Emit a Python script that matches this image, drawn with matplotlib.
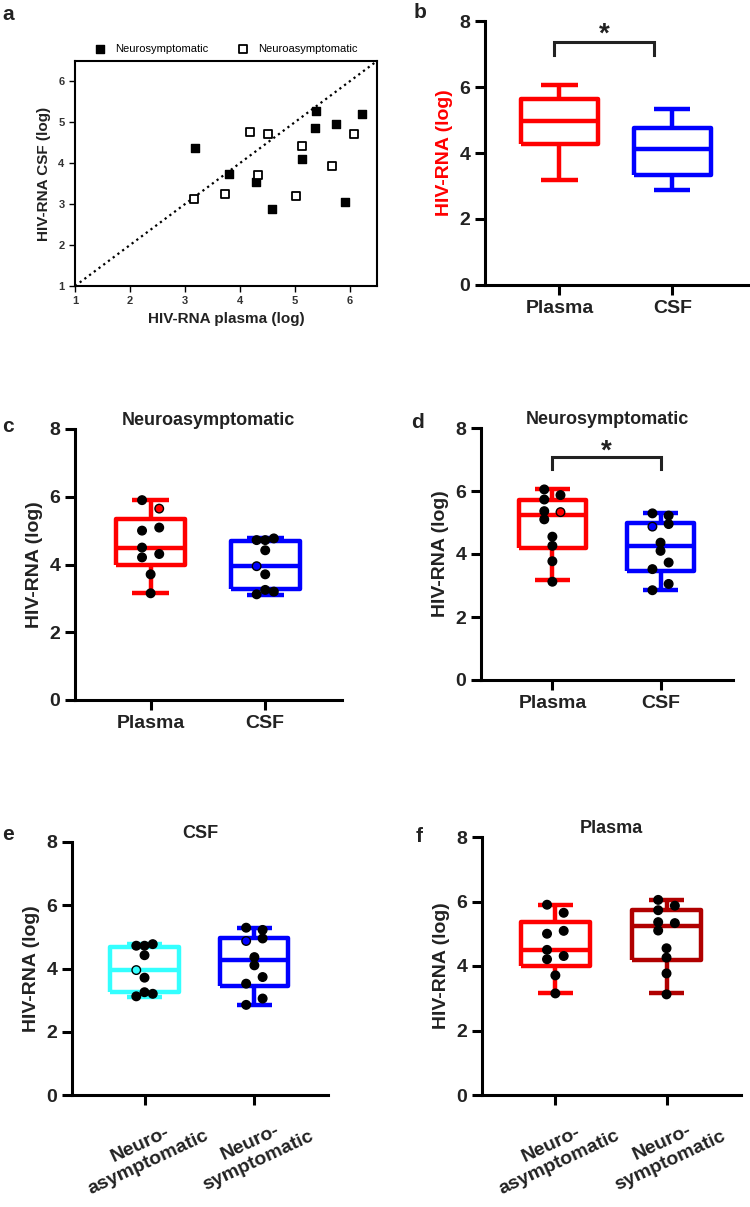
import numpy as np
import matplotlib
matplotlib.use('Agg')
import matplotlib.pyplot as plt

plt.rcParams['font.family'] = ['Liberation Sans', 'DejaVu Sans']
plt.rcParams['font.weight'] = 'bold'
plt.rcParams['axes.labelweight'] = 'bold'
plt.rcParams['axes.titleweight'] = 'bold'

# panel a scatter (plasma log, CSF log)
sym_plasma_a = [3.18, 3.80, 4.30, 4.59, 5.13, 5.37, 5.38, 5.76, 5.91, 6.23]
sym_csf_a = [4.38, 3.74, 3.53, 2.87, 4.11, 4.87, 5.28, 4.95, 3.06, 5.21]
asym_plasma_a = [3.16, 3.73, 4.19, 4.33, 4.51, 5.03, 5.13, 5.68, 6.09]
asym_csf_a = [3.12, 3.25, 4.77, 3.71, 4.72, 3.21, 4.42, 3.94, 4.72]

# box stats: [min, q1, median, q3, max]
all_plasma_box = [3.18, 4.26, 4.98, 5.63, 6.05]
all_csf_box = [2.88, 3.33, 4.12, 4.76, 5.32]
asym_plasma_box = [3.16, 3.99, 4.49, 5.35, 5.89]
asym_csf_box = [3.11, 3.27, 3.96, 4.69, 4.78]
sym_plasma_box = [3.16, 4.19, 5.24, 5.73, 6.06]
sym_csf_box = [2.86, 3.45, 4.26, 4.97, 5.29]

# individual points
asym_plasma_pts = [5.90, 5.65, 5.00, 5.09, 4.50, 4.21, 4.31, 3.71, 3.15]
asym_csf_pts = [4.72, 4.72, 4.77, 4.42, 3.95, 3.71, 3.12, 3.25, 3.20]
sym_plasma_pts = [6.05, 5.73, 5.87, 5.36, 5.33, 5.10, 4.55, 4.26, 3.77, 3.12]
sym_csf_pts = [5.29, 5.22, 4.87, 4.95, 4.36, 4.10, 3.73, 3.52, 3.05, 2.85]

src_labels = ['Plasma', 'CSF']
grp_labels = ['Neuro-\nasymptomatic', 'Neuro-\nsymptomatic']

# dot column within each box (-1 left, 0 centre, 1 right)
asym_plasma_col = [-1, 1, -1, 1, -1, -1, 1, 0, 0]
asym_csf_col = [-1, 0, 1, 0, -1, 0, -1, 0, 1]
sym_plasma_col = [-1, -1, 1, -1, 1, -1, 0, 0, 0, 0]
sym_csf_col = [-1, 1, -1, 1, 0, 0, 1, -1, 1, -1]

RED = '#FF0000'
BLUE = '#0000FF'
CYAN = '#33FFFF'
DRED = '#B00000'

W, H = 750, 1207
fig = plt.figure(figsize=(7.5, 12.07), dpi=100)


def add_ax(l, t, r, b):
    return fig.add_axes([l / W, 1 - b / H, (r - l) / W, (b - t) / H])


def setup_box_ax(ax, xl, title=None, tpad=0, ylab_color='#222222'):
    for s in ['top', 'right']:
        ax.spines[s].set_visible(False)
    for s in ['left', 'bottom']:
        ax.spines[s].set_linewidth(2.2)
        ax.spines[s].set_color('black')
    ax.set_xlim(-0.66, 1.67)
    ax.set_ylim(0, 8)
    ax.set_yticks([0, 2, 4, 6, 8])
    ax.set_xticks([0, 1])
    ax.set_xticklabels(xl)
    ax.tick_params(direction='out', length=7, width=2.2, labelsize=14,
                   colors='black', labelcolor='#222222')
    ax.set_ylabel('HIV-RNA (log)', fontsize=14, color=ylab_color, labelpad=5)
    if title:
        ax.set_title(title, fontsize=13, color='#222222', pad=tpad)


def draw_box(ax, pos, v, color, width):
    st = dict(whislo=v[0], q1=v[1], med=v[2], q3=v[3], whishi=v[4], fliers=[])
    lp = dict(color=color, linewidth=3.2, solid_capstyle='butt')
    ax.bxp([st], positions=[pos], widths=width, capwidths=0.32, showfliers=False,
           manage_ticks=False, boxprops=lp, whiskerprops=lp, capprops=lp,
           medianprops=lp, zorder=2)


def draw_dots(ax, pos, vals, cols, hl=None, hl_color=None):
    faces = ['black'] * len(vals)
    if hl is not None:
        faces[hl] = hl_color
    xs = pos + 0.075 * np.array(cols)
    ax.scatter(xs, vals, s=38, c=faces, edgecolors='black', linewidths=1, zorder=3)


def bracket(ax, x0, x1, y0, y1, soff=0.0):
    ax.plot([x0, x0, x1, x1], [y0, y1, y1, y0], color='#222222', lw=2.2,
            solid_joinstyle='miter', clip_on=False)
    ax.text((x0 + x1) / 2, y1 + soff, '*', ha='center', va='baseline',
            fontsize=20, color='#222222', clip_on=False)


# ---- a ----
ax = add_ax(75, 61, 377, 286)
ax.plot([1, 6.5], [1, 6.5], ls=':', color='black', lw=1.6)
ax.scatter(sym_plasma_a, sym_csf_a, marker='s', s=30, color='black',
           label='Neurosymptomatic', zorder=3)
ax.scatter(asym_plasma_a, asym_csf_a, marker='s', s=30, facecolors='white',
           edgecolors='black', linewidths=1.3, label='Neuroasymptomatic', zorder=3)
ax.set_xlim(1, 6.5)
ax.set_ylim(1, 6.5)
ax.set_xticks(range(1, 7))
ax.set_yticks(range(1, 7))
for s in ax.spines.values():
    s.set_linewidth(1.5)
ax.tick_params(direction='out', length=4, width=1, labelsize=8, labelcolor='#333333')
ax.set_xlabel('HIV-RNA plasma (log)', fontsize=11, color='#222222', labelpad=4)
ax.set_ylabel('HIV-RNA CSF (log)', fontsize=11, color='#222222', labelpad=5)
ax.legend(loc='lower center', bbox_to_anchor=(0.5, 1.0), ncol=2, frameon=False,
          prop={'size': 8, 'weight': 'normal'}, handlelength=1, handletextpad=0.9,
          columnspacing=2.6, borderaxespad=0.2)

# ---- b ----
ax = add_ax(485, 21, 748, 285)
setup_box_ax(ax, src_labels, ylab_color=RED)
draw_box(ax, 0, all_plasma_box, RED, 0.68)
draw_box(ax, 1, all_csf_box, BLUE, 0.68)
bracket(ax, -0.05, 0.84, 6.98, 7.35, soff=0.02)

# ---- c ----
ax = add_ax(75, 429, 342, 700)
setup_box_ax(ax, src_labels, 'Neuroasymptomatic', tpad=2)
draw_box(ax, 0, asym_plasma_box, RED, 0.6)
draw_box(ax, 1, asym_csf_box, BLUE, 0.6)
draw_dots(ax, 0, asym_plasma_pts, asym_plasma_col, 1, RED)
draw_dots(ax, 1, asym_csf_pts, asym_csf_col, 4, BLUE)

# ---- d ----
ax = add_ax(481, 428, 733, 680)
setup_box_ax(ax, src_labels, 'Neurosymptomatic', tpad=1)
draw_box(ax, 0, sym_plasma_box, RED, 0.62)
draw_box(ax, 1, sym_csf_box, BLUE, 0.62)
draw_dots(ax, 0, sym_plasma_pts, sym_plasma_col, 4, RED)
draw_dots(ax, 1, sym_csf_pts, sym_csf_col, 2, BLUE)
bracket(ax, 0, 1, 6.7, 7.07, soff=-0.03)

# ---- e ----
ax = add_ax(72, 842, 328, 1095)
setup_box_ax(ax, grp_labels, 'CSF', tpad=-2.5)
draw_box(ax, 0, asym_csf_box, CYAN, 0.62)
draw_box(ax, 1, sym_csf_box, BLUE, 0.62)
draw_dots(ax, 0, asym_csf_pts, asym_csf_col, 4, CYAN)
draw_dots(ax, 1, sym_csf_pts, sym_csf_col, 2, BLUE)
for t in ax.get_xticklabels():
    t.set_rotation(25)
    t.set_ha('center')

# ---- f ----
ax = add_ax(482, 837, 741, 1095)
setup_box_ax(ax, grp_labels, 'Plasma', tpad=-3)
draw_box(ax, 0, asym_plasma_box, RED, 0.62)
draw_box(ax, 1, sym_plasma_box, DRED, 0.62)
draw_dots(ax, 0, asym_plasma_pts, asym_plasma_col)
draw_dots(ax, 1, sym_plasma_pts, sym_plasma_col)
for t in ax.get_xticklabels():
    t.set_rotation(25)
    t.set_ha('center')

# panel letters
for lab, x, y in [('a', 8, 15), ('b', 420, 12), ('c', 8, 426), ('d', 418, 423),
                  ('e', 8, 835), ('f', 419, 836)]:
    fig.text(x / W, 1 - y / H, lab, fontsize=15, fontweight='bold', color='#222222',
             ha='center', va='center')

fig.savefig('out.png', dpi=100)
